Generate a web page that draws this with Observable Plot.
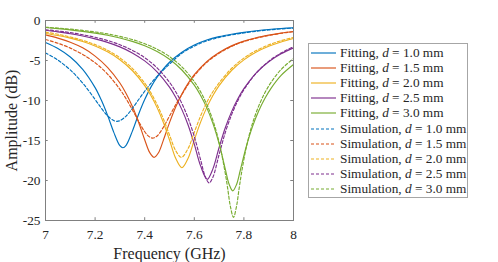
<!DOCTYPE html>
<html>
<head>
<meta charset="utf-8">
<script src="https://cdn.jsdelivr.net/npm/d3@7"></script>
<script src="https://cdn.jsdelivr.net/npm/@observablehq/plot@0.6"></script>
<style>
  html, body { margin: 0; padding: 0; background: #fff; }
  #wrap { position: relative; width: 498px; height: 262px; font-family: 'Liberation Serif', 'Times New Roman', serif; }
  #wrap > svg { display: block; position: absolute; left: 0; top: 0; }
  #legend { position: absolute; left: 308px; top: 43px; width: 160px; height: 155px; box-sizing: border-box;
            border: 1px solid #a6a6a6; background: #fff; color: #262626; font-size: 13.3px; }
  .row { position: absolute; left: 0; height: 15px; display: flex; align-items: center; white-space: nowrap; }
  .row svg { display: block; margin-left: 2px; margin-right: 4px; }
</style>
</head>
<body>
<div id="wrap"><div id="legend"></div></div>
<script>
const xTicks = [7, 7.2, 7.4, 7.6, 7.8, 8];
const yTicks = [0, -5, -10, -15, -20, -25];
const thicknesses = ["1.0", "1.5", "2.0", "2.5", "3.0"];
const colors = ["#0072BD", "#D95319", "#EDB120", "#7E2F8E", "#77AC30"];

// [frequency (GHz), amplitude (dB)]
const fit10 = [[7.00,-2.74],[7.05,-3.50],[7.10,-4.56],[7.15,-6.10],[7.20,-8.39],[7.225,-9.95],[7.25,-11.83],[7.275,-13.95],[7.30,-15.65],[7.312,-15.90],[7.325,-15.60],[7.35,-13.86],[7.375,-11.75],[7.40,-9.88],[7.425,-8.33],[7.45,-7.08],[7.50,-5.22],[7.55,-3.96],[7.60,-3.07],[7.65,-2.44],[7.70,-2.02],[7.75,-1.72],[7.80,-1.48],[7.85,-1.28],[7.90,-1.12],[7.95,-1.00],[8.00,-0.90]];
const fit15 = [[7.00,-1.80],[7.05,-2.20],[7.10,-2.72],[7.15,-3.42],[7.20,-4.45],[7.25,-5.85],[7.30,-7.81],[7.325,-9.12],[7.35,-10.73],[7.375,-12.68],[7.40,-14.90],[7.42,-16.49],[7.438,-17.10],[7.455,-16.56],[7.475,-14.99],[7.50,-12.76],[7.525,-10.80],[7.55,-9.18],[7.575,-7.86],[7.60,-6.78],[7.65,-5.14],[7.70,-4.00],[7.75,-3.17],[7.80,-2.58],[7.85,-2.15],[7.90,-1.83],[7.95,-1.57],[8.00,-1.38]];
const fit20 = [[7.00,-1.62],[7.05,-1.88],[7.10,-2.21],[7.15,-2.63],[7.20,-3.19],[7.25,-3.92],[7.30,-4.90],[7.35,-6.25],[7.40,-8.14],[7.425,-9.38],[7.45,-10.89],[7.475,-12.73],[7.50,-14.93],[7.525,-17.23],[7.55,-18.40],[7.575,-17.23],[7.60,-14.93],[7.625,-12.73],[7.65,-10.89],[7.675,-9.38],[7.70,-8.14],[7.75,-6.25],[7.80,-4.92],[7.85,-3.95],[7.90,-3.23],[7.95,-2.68],[8.00,-2.25]];
const fit25 = [[7.00,-1.22],[7.05,-1.42],[7.10,-1.65],[7.15,-1.94],[7.20,-2.29],[7.25,-2.73],[7.30,-3.30],[7.35,-4.05],[7.40,-5.05],[7.45,-6.41],[7.50,-8.33],[7.525,-9.60],[7.55,-11.14],[7.575,-13.06],[7.60,-15.45],[7.625,-18.14],[7.652,-19.85],[7.675,-18.55],[7.70,-15.87],[7.725,-13.41],[7.75,-11.42],[7.775,-9.82],[7.80,-8.52],[7.85,-6.54],[7.90,-5.16],[7.95,-4.16],[8.00,-3.42]];
const fit30 = [[7.00,-0.88],[7.05,-1.02],[7.10,-1.17],[7.15,-1.36],[7.20,-1.58],[7.25,-1.85],[7.30,-2.18],[7.35,-2.61],[7.40,-3.16],[7.45,-3.88],[7.50,-4.85],[7.55,-6.19],[7.60,-8.08],[7.625,-9.34],[7.65,-10.89],[7.675,-12.86],[7.70,-15.40],[7.725,-18.57],[7.74,-20.44],[7.755,-21.30],[7.77,-20.52],[7.785,-18.78],[7.81,-15.72],[7.835,-13.23],[7.86,-11.28],[7.885,-9.72],[7.91,-8.45],[7.95,-6.86],[8.00,-5.50]];

const sim10 = [[7.00,-4.05],[7.05,-4.95],[7.10,-6.18],[7.15,-7.82],[7.20,-9.87],[7.225,-10.95],[7.25,-11.91],[7.275,-12.51],[7.288,-12.60],[7.30,-12.52],[7.325,-11.95],[7.35,-11.00],[7.375,-9.91],[7.40,-8.84],[7.425,-7.86],[7.45,-6.98],[7.50,-5.45],[7.55,-4.10],[7.60,-3.20],[7.65,-2.55],[7.70,-2.12],[7.75,-1.80],[7.80,-1.55],[7.85,-1.34],[7.90,-1.18],[7.95,-1.05],[8.00,-0.95]];
const sim15 = [[7.00,-2.38],[7.05,-2.84],[7.10,-3.45],[7.15,-4.24],[7.20,-5.28],[7.25,-6.69],[7.30,-8.60],[7.325,-9.79],[7.35,-11.14],[7.375,-12.58],[7.40,-13.90],[7.415,-14.45],[7.432,-14.70],[7.45,-14.43],[7.475,-13.36],[7.50,-11.95],[7.525,-10.53],[7.55,-9.25],[7.575,-8.00],[7.60,-6.90],[7.65,-5.25],[7.70,-4.10],[7.75,-3.25],[7.80,-2.63],[7.85,-2.20],[7.90,-1.87],[7.95,-1.60],[8.00,-1.40]];
const sim20 = [[7.00,-1.45],[7.05,-1.72],[7.10,-2.06],[7.15,-2.48],[7.20,-3.01],[7.25,-3.72],[7.30,-4.67],[7.35,-5.98],[7.40,-7.83],[7.425,-9.05],[7.45,-10.51],[7.475,-12.27],[7.50,-14.31],[7.525,-16.27],[7.548,-17.10],[7.575,-16.00],[7.60,-13.97],[7.625,-11.97],[7.65,-10.26],[7.675,-8.90],[7.70,-7.80],[7.75,-6.00],[7.80,-4.70],[7.85,-3.75],[7.90,-3.05],[7.95,-2.52],[8.00,-2.12]];
const sim25 = [[7.00,-1.15],[7.05,-1.31],[7.10,-1.52],[7.15,-1.78],[7.20,-2.10],[7.25,-2.50],[7.30,-3.03],[7.35,-3.72],[7.40,-4.65],[7.45,-5.92],[7.50,-7.72],[7.525,-8.91],[7.55,-10.37],[7.575,-12.20],[7.60,-14.51],[7.625,-17.36],[7.645,-19.59],[7.66,-20.30],[7.675,-19.59],[7.70,-16.76],[7.725,-14.00],[7.75,-11.80],[7.775,-10.05],[7.80,-8.65],[7.85,-6.57],[7.90,-5.11],[7.95,-4.06],[8.00,-3.28]];
const sim30 = [[7.00,-0.84],[7.05,-0.95],[7.10,-1.08],[7.15,-1.24],[7.20,-1.43],[7.25,-1.68],[7.30,-1.99],[7.35,-2.38],[7.40,-2.90],[7.45,-3.58],[7.50,-4.51],[7.55,-5.79],[7.60,-7.64],[7.625,-8.89],[7.65,-10.45],[7.675,-12.48],[7.70,-15.22],[7.725,-19.12],[7.735,-21.08],[7.745,-23.15],[7.758,-24.60],[7.77,-23.27],[7.78,-21.16],[7.79,-19.13],[7.81,-15.81],[7.835,-12.83],[7.86,-10.67],[7.885,-9.01],[7.91,-7.71],[7.95,-6.12],[8.00,-4.75]];

const fits = [fit10, fit15, fit20, fit25, fit30];
const sims = [sim10, sim15, sim20, sim25, sim30];

const series = [
  ...fits.map((pts, i) => ({pts, color: colors[i], dashed: false, label: "Fitting", d: thicknesses[i]})),
  ...sims.map((pts, i) => ({pts, color: colors[i], dashed: true, label: "Simulation", d: thicknesses[i]}))
];

const serif = "'Liberation Serif', 'Times New Roman', serif";
const frameColor = "#808080";
const lineMarks = series.map(s => Plot.line(s.pts, {
  x: d => d[0], y: d => d[1], stroke: s.color, strokeWidth: 1.15,
  strokeDasharray: s.dashed ? "3,2" : null, curve: "catmull-rom"
}));

const chart = Plot.plot({
  width: 498, height: 262,
  marginLeft: 45, marginRight: 205, marginTop: 20, marginBottom: 42,
  style: {fontFamily: serif, color: "#262626", background: "transparent", overflow: "visible"},
  x: {domain: [7, 8]},
  y: {domain: [-25, 0]},
  marks: [
    ...lineMarks,
    Plot.frame({stroke: frameColor, strokeWidth: 1}),
    Plot.ruleX(xTicks, {x: d => d, y1: -25, y2: -24.65, stroke: frameColor}),
    Plot.ruleX(xTicks, {x: d => d, y1: 0, y2: -0.35, stroke: frameColor}),
    Plot.ruleY(yTicks, {y: d => d, x1: 7, x2: 7.011, stroke: frameColor}),
    Plot.ruleY(yTicks, {y: d => d, x1: 8, x2: 7.989, stroke: frameColor}),
    Plot.axisX({ticks: xTicks, tickSize: 0, tickPadding: 9, tickFormat: d => String(d), fontSize: 13.3, fontFamily: serif, label: null}),
    Plot.axisY({ticks: yTicks, tickSize: 0, tickPadding: 5, tickFormat: d => String(d), fontSize: 13.3, fontFamily: serif, label: null}),
    Plot.text(["Frequency (GHz)"], {text: d => d, frameAnchor: "bottom", textAnchor: "middle", dy: 33, fontSize: 16, fontFamily: serif, lineAnchor: "middle"}),
    Plot.text(["Amplitude (dB)"], {text: d => d, frameAnchor: "left", textAnchor: "middle", dx: -34, rotate: -90, fontSize: 16, fontFamily: serif, lineAnchor: "middle"})
  ]
});
document.getElementById("wrap").prepend(chart);

const legend = document.getElementById("legend");
series.forEach((s, i) => {
  const row = document.createElement("div");
  row.className = "row";
  row.style.top = (1 + 15.2 * i) + "px";
  const ns = "http://www.w3.org/2000/svg";
  const sw = document.createElementNS(ns, "svg");
  sw.setAttribute("width", 25); sw.setAttribute("height", 6);
  const ln = document.createElementNS(ns, "line");
  ln.setAttribute("x1", 0); ln.setAttribute("x2", 25); ln.setAttribute("y1", 3); ln.setAttribute("y2", 3);
  ln.setAttribute("stroke", s.color); ln.setAttribute("stroke-width", 1.15);
  if (s.dashed) ln.setAttribute("stroke-dasharray", "3,2");
  sw.appendChild(ln);
  row.appendChild(sw);
  const t = document.createElement("span");
  t.innerHTML = s.label + ", <i>d</i> = " + s.d + " mm";
  row.appendChild(t);
  legend.appendChild(row);
});
</script>
</body>
</html>
